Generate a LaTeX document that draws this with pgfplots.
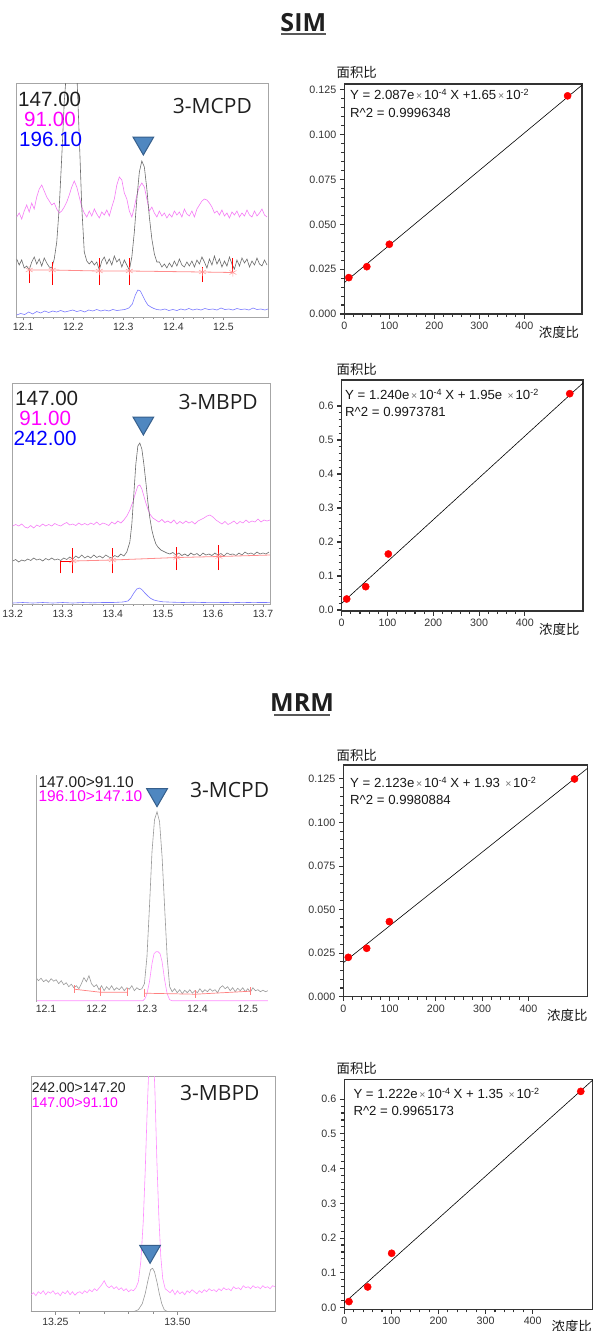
\documentclass[border=0pt]{standalone}
\usepackage{fontspec}
\usepackage{pgfplots}
\pgfplotsset{compat=1.18}
\setmainfont{Liberation Sans}
\newfontfamily\lsans{Liberation Sans}
\newfontfamily\osans{Open Sans}
\newfontfamily\cjk{Noto Sans CJK SC}
\definecolor{triblue}{HTML}{4F87C0}
\definecolor{tribord}{HTML}{365F8C}
\definecolor{mag}{HTML}{FF00FF}
\definecolor{magtr}{HTML}{F57AF5}
\definecolor{pinktr}{HTML}{FF8CFF}
\definecolor{bluetr}{HTML}{7878FF}
\newcommand\fs[1]{\fontsize{#1}{#1}\selectfont}
\newcommand\sups[1]{\raisebox{0.55ex}{\fs{9}#1}}
\newcommand\tim{{\color{black!55}\fs{10.5}\,×\,}}
\pgfplotsset{
  calib/.style={scale only axis, anchor=south west, xmin=0, xmax=528,
    xtick={0,100,200,300,400}, minor x tick num=4, minor y tick num=4,
    tick pos=left, tick align=outside,
    axis line style={black!80, line width=1.1pt},
    major tick style={black!80, line width=1.1pt},
    minor tick style={black!80, line width=1.1pt},
    major tick length=4.5pt, minor tick length=3pt,
    ticklabel style={font=\lsans\fs{10.7}, text=black!80},
    /pgf/number format/assume math mode=true,
    scaled ticks=false,
    x tick label style={/pgf/number format/.cd, fixed, precision=0, /tikz/.cd},
  },
  chrom/.style={scale only axis, anchor=south west, ymin=0, ytick=\empty,
    tick pos=left, tick align=outside,
    axis line style={black!35, line width=0.8pt},
    major tick length=3pt, minor tick length=2pt,
    tick style={black!45, line width=0.6pt},
    ticklabel style={font=\lsans\fs{10.5}, text=black!80},
    /pgf/number format/assume math mode=true, scaled x ticks=false,
    x tick label style={/pgf/number format/.cd, fixed, fixed zerofill, precision=1, /tikz/.cd},
  },
  tri/.style={only marks, mark=triangle*, mark size=12pt,
    mark options={rotate=180, fill=triblue, draw=tribord, line width=1pt}},
  pts/.style={only marks, mark=*, mark size=3.6pt, mark options={fill=red, draw=red}},
}
\begin{document}
\begin{tikzpicture}[x=1pt,y=1pt]
\useasboundingbox (0,0) rectangle (593,-1331);

% ---------------- titles
\node[anchor=base, inner sep=0, text=black!88] at (303.3,-31.7) {\osans\bfseries\fs{25}SIM};
\draw[black!65, line width=2pt] (281,-34) -- (326,-34);
\node[anchor=base, inner sep=0, text=black!88] at (302,-711.7) {\osans\bfseries\fs{25}MRM};
\draw[black!65, line width=2pt] (274,-714.7) -- (330,-714.7);

% ================= Panel 1: SIM 3-MCPD chromatogram
\begin{axis}[chrom, at={(16.7pt,-317pt)}, width=251.3pt, height=234pt,
  xmin=12.087, xmax=12.589, ymax=234, xtick={12.1,12.2,12.3,12.4,12.5}, minor x tick num=4]
\addplot[magtr, line width=0.6pt] coordinates {
(12.087,100) (12.092,104) (12.097,98) (12.102,106) (12.107,112) (12.112,105) (12.117,114) (12.122,108)
(12.127,120) (12.132,128) (12.137,132) (12.142,126) (12.147,120) (12.152,116) (12.157,112) (12.162,114)
(12.167,108) (12.172,104) (12.177,106) (12.182,110) (12.187,115) (12.192,122) (12.197,130) (12.202,136)
(12.207,130) (12.212,120) (12.217,110) (12.222,104) (12.227,100) (12.232,106) (12.237,101) (12.242,108)
(12.247,103) (12.252,99) (12.257,105) (12.262,102) (12.267,107) (12.272,101) (12.277,110) (12.282,118)
(12.287,132) (12.292,140) (12.297,137) (12.302,124) (12.307,118) (12.312,106) (12.317,100) (12.322,110)
(12.327,122) (12.332,130) (12.337,134) (12.342,130) (12.347,118) (12.352,106) (12.357,110) (12.362,104)
(12.367,100) (12.372,106) (12.377,101) (12.382,104) (12.387,99) (12.392,103) (12.397,100) (12.402,106)
(12.407,102) (12.412,105) (12.417,100) (12.422,108) (12.427,103) (12.432,101) (12.437,106) (12.442,100)
(12.447,108) (12.452,112) (12.457,116) (12.462,118) (12.467,117) (12.472,114) (12.477,110) (12.482,104)
(12.487,106) (12.492,102) (12.497,107) (12.502,101) (12.507,104) (12.512,99) (12.517,105) (12.522,102)
(12.527,106) (12.532,100) (12.537,104) (12.542,101) (12.547,107) (12.552,102) (12.557,100) (12.562,106)
(12.567,101) (12.572,104) (12.577,108) (12.582,102) (12.587,100)};
\addplot[black!58, line width=0.6pt] coordinates {
(12.087,58) (12.092,52) (12.097,57) (12.102,49) (12.107,51) (12.112,47) (12.117,55) (12.122,60)
(12.127,53) (12.132,58) (12.137,51) (12.142,59) (12.147,54) (12.152,50) (12.157,49) (12.162,58)
(12.167,75) (12.172,110) (12.177,160) (12.182,215) (12.187,250) (12.192,275) (12.197,285) (12.202,275)
(12.207,245) (12.212,180) (12.217,110) (12.222,65) (12.227,56) (12.232,53) (12.237,56) (12.242,52)
(12.247,55) (12.252,47) (12.257,56) (12.262,60) (12.267,53) (12.272,58) (12.277,52) (12.282,61)
(12.287,55) (12.292,58) (12.297,50) (12.302,57) (12.307,52) (12.312,47) (12.317,60) (12.322,85)
(12.327,118) (12.332,145) (12.337,156) (12.342,150) (12.347,128) (12.352,100) (12.357,78) (12.362,63)
(12.367,55) (12.372,55) (12.377,50) (12.382,53) (12.387,49) (12.392,54) (12.397,50) (12.402,56)
(12.407,51) (12.412,58) (12.417,52) (12.422,50) (12.427,55) (12.432,51) (12.437,56) (12.442,50)
(12.447,57) (12.452,53) (12.457,60) (12.462,55) (12.467,49) (12.472,58) (12.477,52) (12.482,61)
(12.487,53) (12.492,58) (12.497,50) (12.502,56) (12.507,51) (12.512,60) (12.517,53) (12.522,48)
(12.527,57) (12.532,51) (12.537,59) (12.542,54) (12.547,58) (12.552,50) (12.557,56) (12.562,52)
(12.567,59) (12.572,53) (12.577,51) (12.582,57) (12.587,52)};
\addplot[bluetr, line width=0.6pt] coordinates {
(12.087,2) (12.095,3.5) (12.103,2.5) (12.111,5) (12.119,3) (12.127,5.5) (12.135,4) (12.143,6)
(12.151,4.5) (12.159,6) (12.167,5) (12.175,6.5) (12.183,5) (12.191,6) (12.199,7) (12.207,5.5)
(12.215,6.5) (12.223,5) (12.231,7) (12.239,6) (12.247,7.5) (12.255,6) (12.263,7) (12.271,6)
(12.279,7.5) (12.287,6.5) (12.295,7) (12.303,7.5) (12.311,9) (12.318,13) (12.324,22) (12.329,27)
(12.334,26) (12.339,21) (12.344,16) (12.349,12) (12.355,10) (12.361,8.5) (12.367,7.5) (12.375,7)
(12.383,8) (12.391,6.5) (12.399,7.5) (12.407,6.5) (12.415,8) (12.423,7) (12.431,8.5) (12.439,7)
(12.447,8) (12.455,7) (12.463,8.5) (12.471,7.5) (12.479,8) (12.487,7) (12.495,9) (12.503,7.5)
(12.511,8) (12.519,7) (12.527,8.5) (12.535,7.5) (12.543,8) (12.551,7) (12.559,9) (12.567,7.5)
(12.575,8) (12.583,7) (12.589,8)};
\addplot[red!45, line width=0.8pt] coordinates {(12.112,47) (12.158,47) (12.252,46) (12.312,46) (12.458,45) (12.519,44.5)};
\addplot[only marks, mark=asterisk, mark size=4pt, red!40, mark options={line width=0.5pt}] coordinates {
(12.112,47) (12.158,47) (12.252,46) (12.312,46) (12.458,45) (12.519,44.5)};
\addplot[red, line width=1pt, unbounded coords=jump] coordinates {
(12.112,34) (12.112,47) (12.112,nan) (12.158,32) (12.158,55) (12.158,nan)
(12.252,32) (12.252,58.7) (12.252,nan) (12.312,32) (12.312,58.7) (12.312,nan)
(12.458,35) (12.458,50) (12.458,nan) (12.519,45.3) (12.519,58.7)};
\addplot[tri] coordinates {(12.34,174)};
\end{axis}
\node[anchor=base west, inner sep=0, text=black!88] at (18,-106) {\lsans\fs{20.6}147.00};
\node[anchor=base west, inner sep=0, text=mag] at (24,-126.7) {\lsans\fs{20.6}91.00};
\node[anchor=base west, inner sep=0, text=blue] at (19,-146.7) {\lsans\fs{20.6}196.10};
\node[anchor=base west, inner sep=0, text=black!88] at (172.7,-113.3) {\osans\fs{21}3-MCPD};

% ================= Panel 2: SIM 3-MCPD calibration
\begin{axis}[calib, at={(344.3pt,-314pt)}, width=237.7pt, height=230pt,
  ymin=0, ymax=0.1283, ytick={0,0.025,0.05,0.075,0.1,0.125},
  y tick label style={/pgf/number format/.cd, fixed, fixed zerofill, precision=3, /tikz/.cd}]
\addplot[black, line width=0.6pt] coordinates {(0,0.0175) (528,0.1277)};
\addplot[pts] coordinates {(10,0.0203) (50,0.0264) (100,0.0389) (496,0.1217)};
\end{axis}
\node[anchor=base west, inner sep=0, text=black!90] at (350,-99.7) {\lsans\fs{13.2}Y = 2.087e\tim10\sups{-4} X +1.65\tim10\sups{-2}};
\node[anchor=base west, inner sep=0, text=black!90] at (350,-117.4) {\lsans\fs{13.2}R\^{}2 = 0.9996348};
\node[inner sep=0, text=black!90] at (356.7,-72) {\cjk\fs{13.4}面积比};
\node[inner sep=0, text=black!90] at (559,-332) {\cjk\fs{13.4}浓度比};

% ================= Panel 3: SIM 3-MBPD chromatogram
\begin{axis}[chrom, at={(12.7pt,-604pt)}, width=257.3pt, height=221pt,
  xmin=13.2, xmax=13.714, ymax=221, xtick={13.2,13.3,13.4,13.5,13.6,13.7}, minor x tick num=4]
\addplot[magtr, line width=0.6pt] coordinates {
(13.200,78) (13.206,79.5) (13.212,78) (13.218,80) (13.224,77) (13.230,76) (13.236,78.5) (13.242,76)
(13.248,79) (13.254,77.5) (13.260,80) (13.266,78) (13.272,79.5) (13.278,78) (13.284,80.5) (13.290,79)
(13.296,78) (13.302,80) (13.308,81.5) (13.314,79) (13.320,80) (13.326,78.5) (13.332,81) (13.338,79)
(13.344,80.5) (13.350,79) (13.356,81) (13.362,79.5) (13.368,82) (13.374,79) (13.380,81) (13.386,80)
(13.392,78.5) (13.398,82) (13.404,80) (13.410,83) (13.416,81) (13.422,84) (13.428,88) (13.434,94)
(13.440,102) (13.446,112) (13.450,118) (13.454,119) (13.458,115) (13.462,108) (13.466,101) (13.470,95)
(13.474,90) (13.480,86) (13.486,84) (13.492,82) (13.498,84.5) (13.504,81.5) (13.510,83) (13.516,81)
(13.522,84) (13.528,80) (13.534,82.5) (13.540,80.5) (13.546,83) (13.552,81) (13.558,82.5) (13.564,80)
(13.570,83) (13.576,84.5) (13.582,86) (13.588,88) (13.594,89) (13.600,87) (13.606,84) (13.612,82)
(13.618,80) (13.624,82.5) (13.630,79.5) (13.636,81) (13.642,83) (13.648,80) (13.654,82.5) (13.660,81)
(13.666,84) (13.672,81.5) (13.678,83) (13.684,82) (13.690,85) (13.696,82) (13.702,84) (13.708,83) (13.714,84)};
\addplot[black!58, line width=0.6pt] coordinates {
(13.200,43) (13.206,44.5) (13.212,42) (13.218,44) (13.224,43) (13.230,45) (13.236,43.5) (13.242,46)
(13.248,44) (13.254,45) (13.260,43) (13.266,45.5) (13.272,44) (13.278,46) (13.284,44) (13.290,45)
(13.296,43.5) (13.302,46) (13.308,44.5) (13.314,47) (13.320,45) (13.326,48) (13.332,46) (13.338,49)
(13.344,46) (13.350,48) (13.356,46) (13.362,49) (13.368,46.5) (13.374,48) (13.380,46) (13.386,49)
(13.392,47) (13.398,46) (13.404,48.5) (13.410,47) (13.416,50) (13.422,48) (13.428,52) (13.434,62)
(13.438,80) (13.442,110) (13.446,140) (13.450,158) (13.454,161) (13.458,155) (13.462,140) (13.466,122)
(13.470,102) (13.474,86) (13.478,74) (13.482,66) (13.486,60) (13.490,57) (13.496,54) (13.502,52.5)
(13.508,51) (13.514,50) (13.520,51.5) (13.526,49) (13.532,51) (13.538,48.5) (13.544,50) (13.550,48)
(13.556,51) (13.562,49) (13.568,50.5) (13.574,48) (13.580,51) (13.586,49) (13.592,50) (13.598,48.5)
(13.604,51) (13.610,49) (13.616,50.5) (13.622,48) (13.628,51) (13.634,49.5) (13.640,50) (13.646,48.5)
(13.652,51) (13.658,49) (13.664,52) (13.670,50) (13.676,51) (13.682,49.5) (13.688,52) (13.694,50)
(13.700,51) (13.706,50) (13.712,52)};
\addplot[bluetr, line width=0.6pt] coordinates {
(13.20,1) (13.22,1.5) (13.24,1) (13.26,1.5) (13.28,1) (13.30,1.5) (13.32,1) (13.34,1.5) (13.36,1.2)
(13.38,1.5) (13.40,1.5) (13.42,2) (13.43,3) (13.436,6) (13.442,11) (13.448,15) (13.453,16) (13.458,14.5)
(13.464,11) (13.470,8) (13.476,5.5) (13.482,4) (13.490,3) (13.500,2.2) (13.52,1.8) (13.54,1.5) (13.56,1.8)
(13.58,1.5) (13.60,1.7) (13.62,1.5) (13.64,1.6) (13.66,1.4) (13.68,1.6) (13.70,1.5) (13.714,1.6)};
\addplot[red!45, line width=0.8pt] coordinates {(13.32,43) (13.399,44) (13.528,46.5) (13.612,47.5) (13.714,49)};
\addplot[only marks, mark=asterisk, mark size=4pt, red!40, mark options={line width=0.5pt}] coordinates {
(13.32,43) (13.399,44) (13.528,46.5) (13.612,47.5)};
\addplot[red, line width=1pt, unbounded coords=jump] coordinates {
(13.295,30.7) (13.295,42.3) (13.32,42.3) (13.32,nan) (13.32,30.7) (13.32,55.7) (13.32,nan)
(13.399,30.7) (13.399,55.7) (13.399,nan) (13.528,34) (13.528,57.3) (13.528,nan)
(13.612,34) (13.612,59)};
\addplot[tri] coordinates {(13.461,181)};
\end{axis}
\node[anchor=base west, inner sep=0, text=black!88] at (15,-405) {\lsans\fs{20.6}147.00};
\node[anchor=base west, inner sep=0, text=mag] at (19.3,-425) {\lsans\fs{20.6}91.00};
\node[anchor=base west, inner sep=0, text=blue] at (13.3,-445) {\lsans\fs{20.6}242.00};
\node[anchor=base west, inner sep=0, text=black!88] at (178.3,-409) {\osans\fs{21}3-MBPD};

% ================= Panel 4: SIM 3-MBPD calibration
\begin{axis}[calib, at={(341.7pt,-611pt)}, width=241.3pt, height=231pt, xmax=527,
  ymin=-0.003, ymax=0.6765, ytick={0,0.1,0.2,0.3,0.4,0.5,0.6},
  y tick label style={/pgf/number format/.cd, fixed, fixed zerofill, precision=1, /tikz/.cd}]
\addplot[black, line width=0.6pt] coordinates {(0,0.0196) (528,0.669)};
\addplot[pts] coordinates {(10.9,0.0324) (52.4,0.0686) (101.8,0.1647) (498,0.6363)};
\end{axis}
\node[anchor=base west, inner sep=0, text=black!90] at (345,-399.7) {\lsans\fs{13.2}Y = 1.240e\tim10\sups{-4} X + 1.95e\ \tim10\sups{-2}};
\node[anchor=base west, inner sep=0, text=black!90] at (345,-416.4) {\lsans\fs{13.2}R\^{}2 = 0.9973781};
\node[inner sep=0, text=black!90] at (356.7,-369) {\cjk\fs{13.4}面积比};
\node[inner sep=0, text=black!90] at (559.3,-629) {\cjk\fs{13.4}浓度比};

% ================= Panel 5: MRM 3-MCPD chromatogram
\begin{axis}[chrom, at={(36pt,-1001.7pt)}, width=232pt, height=226.7pt,
  xmin=12.08, xmax=12.54, ymax=226.7, xtick={12.1,12.2,12.3,12.4,12.5},
  axis line style={draw=none}, major tick length=0pt,
  extra description/.code={\draw[black!35, line width=0.8pt] (rel axis cs:0,0) -- (rel axis cs:0,1);}]
\addplot[black!40, line width=0.6pt] coordinates {
(12.080,24) (12.085,21) (12.090,23.5) (12.095,20) (12.100,22) (12.105,19.5) (12.110,23) (12.115,20.5)
(12.120,22) (12.125,18) (12.130,21) (12.135,17) (12.140,19) (12.145,15) (12.150,17.5) (12.155,14)
(12.160,16) (12.165,13) (12.170,18) (12.175,24) (12.180,20) (12.185,26) (12.190,18) (12.195,15)
(12.200,17) (12.205,12) (12.210,16) (12.215,11) (12.220,15) (12.225,12) (12.230,16) (12.235,11.5)
(12.240,14) (12.245,12) (12.250,15) (12.255,11) (12.260,14) (12.265,12.5) (12.270,16) (12.275,11)
(12.280,14) (12.285,12) (12.290,13) (12.295,18) (12.300,45) (12.305,95) (12.310,150) (12.315,182)
(12.320,190) (12.325,180) (12.330,145) (12.335,95) (12.340,45) (12.345,15) (12.350,10) (12.355,13)
(12.360,9) (12.365,12) (12.370,8) (12.375,11.5) (12.380,9) (12.385,12) (12.390,8.5) (12.395,11)
(12.400,9) (12.405,13) (12.410,9.5) (12.415,12) (12.420,10) (12.425,13) (12.430,10.5) (12.435,12)
(12.440,9) (12.445,14) (12.450,16) (12.455,13) (12.460,15) (12.465,11) (12.470,14) (12.475,10)
(12.480,13.5) (12.485,11) (12.490,14) (12.495,10) (12.500,13) (12.505,9.5) (12.510,14) (12.515,11)
(12.520,12) (12.525,10) (12.530,11.5) (12.535,10) (12.540,11)};
\addplot[pinktr, line width=0.6pt] coordinates {
(12.080,1) (12.292,1) (12.296,3) (12.300,8) (12.305,20) (12.310,38) (12.314,48) (12.318,50)
(12.322,50) (12.326,48) (12.330,40) (12.335,22) (12.340,8) (12.345,2) (12.350,1) (12.540,1)};
\addplot[red!50, line width=0.7pt, mark=|, mark size=4pt, unbounded coords=jump] coordinates {
(12.156,12.5) (12.207,9.5) (12.262,9.5) (12.262,nan) (12.295,8.5) (12.396,7.5) (12.505,10.5)};
\addplot[tri] coordinates {(12.32,207)};
\end{axis}
\node[anchor=base west, inner sep=0, text=black!88] at (38.3,-787.7) {\lsans\fs{15.5}147.00>91.10};
\node[anchor=base west, inner sep=0, text=mag] at (38.3,-801.7) {\lsans\fs{15.5}196.10>147.10};
\node[anchor=base west, inner sep=0, text=black!88] at (190,-797.7) {\osans\fs{21}3-MCPD};

% ================= Panel 6: MRM 3-MCPD calibration
\begin{axis}[calib, at={(343.3pt,-996.7pt)}, width=244.4pt, height=231.7pt,
  ymin=0, ymax=0.133, ytick={0,0.025,0.05,0.075,0.1,0.125},
  y tick label style={/pgf/number format/.cd, fixed, fixed zerofill, precision=3, /tikz/.cd}]
\addplot[black, line width=0.6pt] coordinates {(0,0.0195) (528,0.1312)};
\addplot[pts] coordinates {(10.8,0.0226) (50.5,0.0278) (99.5,0.0431) (499.5,0.125)};
\end{axis}
\node[anchor=base west, inner sep=0, text=black!90] at (350,-787) {\lsans\fs{13.2}Y = 2.123e\tim10\sups{-4} X + 1.93\ \tim10\sups{-2}};
\node[anchor=base west, inner sep=0, text=black!90] at (350,-804.7) {\lsans\fs{13.2}R\^{}2 = 0.9980884};
\node[inner sep=0, text=black!90] at (356.7,-755) {\cjk\fs{13.4}面积比};
\node[inner sep=0, text=black!90] at (567.3,-1015) {\cjk\fs{13.4}浓度比};

% ================= Panel 7: MRM 3-MBPD chromatogram
\begin{axis}[chrom, at={(31pt,-1311.7pt)}, width=244pt, height=235.7pt,
  xmin=13.2, xmax=13.7, ymax=235.7, xtick={13.25,13.5}, minor x tick num=4,
  x tick label style={/pgf/number format/.cd, fixed, fixed zerofill, precision=2, /tikz/.cd}]
\addplot[pinktr, line width=0.6pt] coordinates {
(13.200,17) (13.205,19) (13.210,16) (13.215,20) (13.220,18) (13.225,21) (13.230,17) (13.235,20)
(13.240,18.5) (13.245,21) (13.250,17.5) (13.255,19) (13.260,16) (13.265,20) (13.270,18) (13.275,21)
(13.280,17) (13.285,20) (13.290,16.5) (13.295,19) (13.300,20) (13.305,18) (13.310,21) (13.315,19)
(13.320,22) (13.325,20) (13.330,23) (13.335,21) (13.340,24) (13.345,27) (13.350,31) (13.355,26)
(13.360,24) (13.365,26) (13.370,23) (13.375,25) (13.380,22) (13.385,24) (13.390,21) (13.395,23)
(13.400,20) (13.405,22) (13.410,21) (13.415,24) (13.420,30) (13.425,50) (13.430,90) (13.434,140)
(13.438,200) (13.442,250) (13.446,280) (13.450,270) (13.454,220) (13.458,150) (13.462,95) (13.466,55)
(13.470,33) (13.475,23) (13.480,21) (13.485,19) (13.490,22) (13.495,17) (13.500,21) (13.505,18)
(13.510,20) (13.515,17) (13.520,21) (13.525,19) (13.530,22) (13.535,20) (13.540,18) (13.545,21)
(13.550,19) (13.555,22) (13.560,20) (13.565,23) (13.570,21) (13.575,22) (13.580,20) (13.585,23)
(13.590,21) (13.595,24) (13.600,22) (13.605,23) (13.610,21) (13.615,25) (13.620,23) (13.625,24)
(13.630,22) (13.635,26) (13.640,24) (13.645,25) (13.650,23) (13.655,26) (13.660,24) (13.665,25)
(13.670,23) (13.675,26) (13.680,24) (13.685,25) (13.690,23) (13.695,26) (13.700,25)};
\addplot[black!40, line width=0.6pt] coordinates {
(13.20,0) (13.41,0) (13.42,2) (13.428,8) (13.434,18) (13.44,32) (13.445,42) (13.449,43.5) (13.453,40)
(13.458,30) (13.463,18) (13.468,8) (13.473,2) (13.48,0) (13.70,0)};
\addplot[tri] coordinates {(13.444,60.4)};
\end{axis}
\node[anchor=base west, inner sep=0, text=black!88] at (31.7,-1092.3) {\lsans\fs{14}242.00>147.20};
\node[anchor=base west, inner sep=0, text=mag] at (31.7,-1107.7) {\lsans\fs{14}147.00>91.10};
\node[anchor=base west, inner sep=0, text=black!88] at (180,-1100.7) {\osans\fs{21}3-MBPD};

% ================= Panel 8: MRM 3-MBPD calibration
\begin{axis}[calib, at={(344.3pt,-1309.3pt)}, width=248.7pt, height=230pt,
  ymin=-0.005, ymax=0.657, ytick={0,0.1,0.2,0.3,0.4,0.5,0.6},
  y tick label style={/pgf/number format/.cd, fixed, fixed zerofill, precision=1, /tikz/.cd}]
\addplot[black, line width=0.6pt] coordinates {(0,0.0135) (530,0.658)};
\addplot[pts] coordinates {(9.9,0.0173) (49.6,0.0594) (100.5,0.1563) (502,0.6223)};
\end{axis}
\node[anchor=base west, inner sep=0, text=black!90] at (353.3,-1098.7) {\lsans\fs{13.2}Y = 1.222e\tim10\sups{-4} X + 1.35\ \tim10\sups{-2}};
\node[anchor=base west, inner sep=0, text=black!90] at (353.3,-1115.4) {\lsans\fs{13.2}R\^{}2 = 0.9965173};
\node[inner sep=0, text=black!90] at (356.7,-1068.3) {\cjk\fs{13.4}面积比};
\node[inner sep=0, text=black!90] at (571.7,-1326) {\cjk\fs{13.4}浓度比};
\end{tikzpicture}
\end{document}
